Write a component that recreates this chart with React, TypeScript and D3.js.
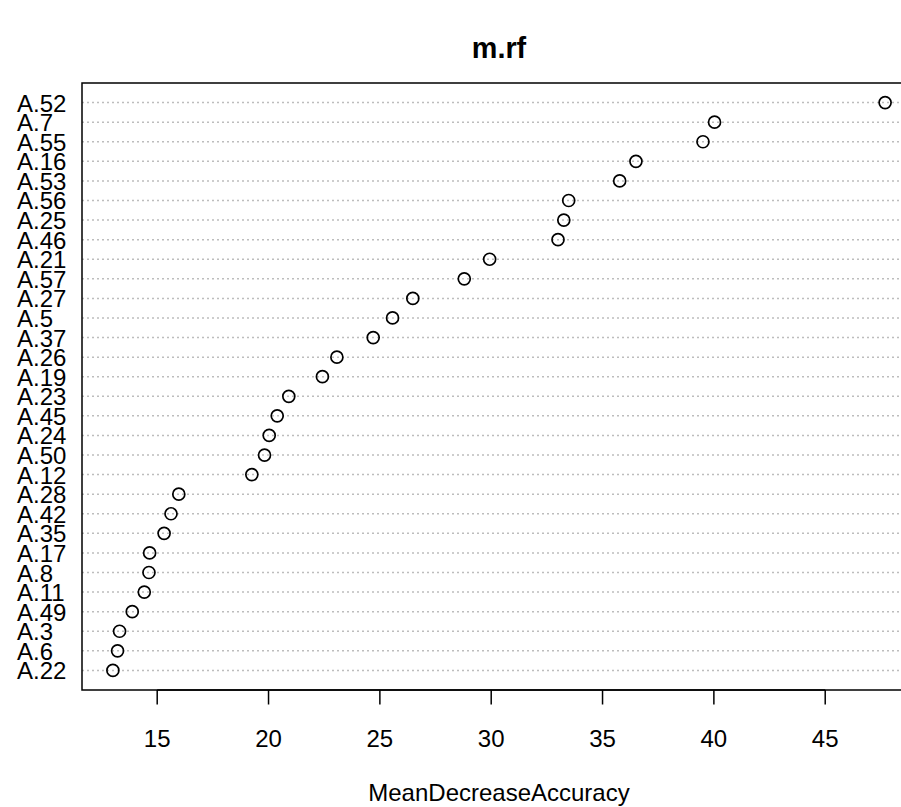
import React, { useEffect, useRef } from "react";
import * as d3 from "d3";

// variable importance, top to bottom as drawn
const labels = [
  "A.52", "A.7", "A.55", "A.16", "A.53", "A.56", "A.25", "A.46", "A.21", "A.57",
  "A.27", "A.5", "A.37", "A.26", "A.19", "A.23", "A.45", "A.24", "A.50", "A.12",
  "A.28", "A.42", "A.35", "A.17", "A.8", "A.11", "A.49", "A.3", "A.6", "A.22"
];
const meanDecreaseAccuracy = [
  47.69, 40.03, 39.51, 36.5, 35.77, 33.48, 33.26, 33.0, 29.93, 28.79,
  26.48, 25.57, 24.7, 23.07, 22.42, 20.91, 20.39, 20.03, 19.82, 19.25,
  15.97, 15.62, 15.31, 14.66, 14.63, 14.42, 13.88, 13.31, 13.22, 13.01
];
const xTicks = [15, 20, 25, 30, 35, 40, 45];
const title = "m.rf";
const xLabel = "MeanDecreaseAccuracy";

const W = 901;
const H = 807;
const FONT = "'Liberation Sans', Arial, Helvetica, sans-serif";

const App = () => {
  const ref = useRef<SVGSVGElement>(null);

  useEffect(() => {
    const svg = d3.select(ref.current);
    svg.selectAll("*").remove();

    const plot = { left: 82, right: 916, top: 83, bottom: 690 };
    const n = labels.length;

    // R style: data range padded by 4% on each side
    const ext = d3.extent(meanDecreaseAccuracy) as [number, number];
    const pad = (ext[1] - ext[0]) * 0.04;
    const x = d3
      .scaleLinear()
      .domain([ext[0] - pad, ext[1] + pad])
      .range([plot.left, plot.right]);
    // row 1 at the bottom, row n at the top
    const y = d3.scaleLinear().domain([0, n + 1]).range([plot.bottom, plot.top]);
    const rowY = (i: number) => y(n - i);

    // dotted guide lines
    svg
      .selectAll(".guide")
      .data(labels)
      .enter()
      .append("line")
      .attr("class", "guide")
      .attr("x1", plot.left)
      .attr("x2", plot.right)
      .attr("y1", (d, i) => rowY(i))
      .attr("y2", (d, i) => rowY(i))
      .attr("stroke", "#bdbdbd")
      .attr("stroke-width", 1.5)
      .attr("stroke-dasharray", "2,3");

    svg
      .selectAll(".dot")
      .data(meanDecreaseAccuracy)
      .enter()
      .append("circle")
      .attr("class", "dot")
      .attr("cx", d => x(d))
      .attr("cy", (d, i) => rowY(i))
      .attr("r", 6)
      .attr("fill", "none")
      .attr("stroke", "#000")
      .attr("stroke-width", 1.7);

    svg
      .selectAll(".lab")
      .data(labels)
      .enter()
      .append("text")
      .attr("class", "lab")
      .attr("x", 17)
      .attr("y", (d, i) => rowY(i) + 9)
      .attr("font-family", FONT)
      .attr("font-size", 24)
      .attr("fill", "#000")
      .text(d => d);

    // box
    svg
      .append("rect")
      .attr("x", plot.left)
      .attr("y", plot.top)
      .attr("width", plot.right - plot.left)
      .attr("height", plot.bottom - plot.top)
      .attr("fill", "none")
      .attr("stroke", "#000")
      .attr("stroke-width", 1.5);

    // x axis, R style
    const axis = svg.append("g");
    axis
      .append("line")
      .attr("x1", x(xTicks[0]))
      .attr("x2", x(xTicks[xTicks.length - 1]))
      .attr("y1", plot.bottom)
      .attr("y2", plot.bottom)
      .attr("stroke", "#000")
      .attr("stroke-width", 1.5);
    axis
      .selectAll(".tick")
      .data(xTicks)
      .enter()
      .append("line")
      .attr("class", "tick")
      .attr("x1", d => x(d))
      .attr("x2", d => x(d))
      .attr("y1", plot.bottom)
      .attr("y2", plot.bottom + 14.5)
      .attr("stroke", "#000")
      .attr("stroke-width", 1.5);
    axis
      .selectAll(".tickLab")
      .data(xTicks)
      .enter()
      .append("text")
      .attr("class", "tickLab")
      .attr("x", d => x(d))
      .attr("y", 747)
      .attr("text-anchor", "middle")
      .attr("font-family", FONT)
      .attr("font-size", 24)
      .text(d => d);

    const mid = (plot.left + plot.right) / 2;
    svg
      .append("text")
      .attr("x", mid)
      .attr("y", 801)
      .attr("text-anchor", "middle")
      .attr("font-family", FONT)
      .attr("font-size", 24)
      .text(xLabel);

    svg
      .append("text")
      .attr("x", mid)
      .attr("y", 58)
      .attr("text-anchor", "middle")
      .attr("font-family", FONT)
      .attr("font-size", 28.8)
      .attr("font-weight", "bold")
      .text(title);
  }, []);

  return (
    <svg
      ref={ref}
      width={W}
      height={H}
      style={{ position: "absolute", left: 0, top: 0, background: "#fff" }}
    />
  );
};

export default App;
